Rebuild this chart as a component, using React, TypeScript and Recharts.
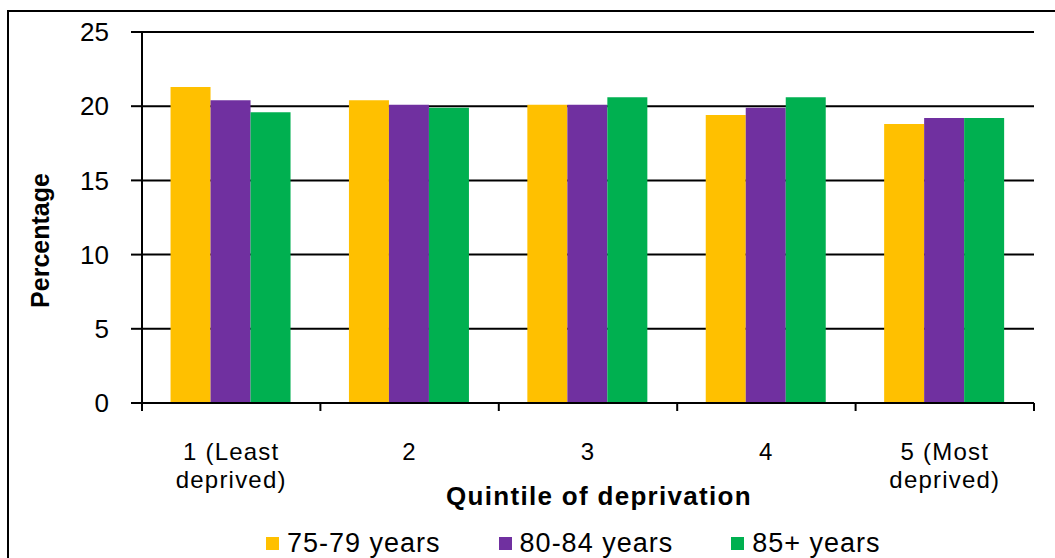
import { BarChart, Bar, XAxis, YAxis, CartesianGrid, Legend, Label } from 'recharts';

const categories = ['1 (Least\ndeprived)', '2', '3', '4', '5 (Most\ndeprived)'];
const age75to79 = [21.3, 20.4, 20.1, 19.4, 18.8];
const age80to84 = [20.4, 20.1, 20.1, 19.9, 19.2];
const age85plus = [19.6, 19.9, 20.6, 20.6, 19.2];
const yTicks = [0, 5, 10, 15, 20, 25];
const categoryEdges = [0, 1, 2, 3, 4, 5];

const seriesList = [
  { key: 'a', name: '75-79 years', color: '#FFC000' },
  { key: 'b', name: '80-84 years', color: '#7030A0' },
  { key: 'c', name: '85+ years', color: '#00B050' },
];

const data = categories.map((q, i) => ({
  q,
  idx: i + 0.5,
  a: age75to79[i],
  b: age80to84[i],
  c: age85plus[i],
}));

const FONT = '"Liberation Sans", Arial, sans-serif';

const CategoryTick = (props: any) => {
  const { x, y, payload } = props;
  const lines: string[] = String(payload.value).split('\n');
  return (
    <text x={x} y={y} textAnchor="middle" fill="#000" fontSize={24} letterSpacing={1.2} fontFamily={FONT}>
      {lines.map((l, i) => (
        <tspan key={i} x={x} dy={i === 0 ? 49 : 28}>
          {l}
        </tspan>
      ))}
    </text>
  );
};

const NoTick = () => <g />;

const LegendBox = () => (
  <div style={{ display: 'flex', paddingLeft: 266, fontFamily: FONT, fontSize: 27, letterSpacing: 1, color: '#000', height: 40, alignItems: 'flex-end' }}>
    {seriesList.map((s) => (
      <div key={s.key} style={{ display: 'flex', alignItems: 'center', marginRight: 58, lineHeight: '30px' }}>
        <span style={{ width: 13, height: 13, background: s.color, marginRight: 8, display: 'inline-block' }} />
        <span>{s.name}</span>
      </div>
    ))}
  </div>
);

const App = () => {
  return (
    <div style={{ position: 'absolute', left: 0, top: 0, width: 1055, height: 558, overflow: 'hidden', background: '#fff' }}>
      <div style={{ position: 'absolute', left: 7, top: 10, width: 1200, height: 700, border: '2px solid #000' }} />
      <div style={{ position: 'absolute', left: 0, top: 0 }}>
        <BarChart
          width={1055}
          height={558}
          data={data}
          margin={{ top: 32, right: 21, left: 8, bottom: 0 }}
          barCategoryGap="16%"
          barGap={0}
          style={{ fontFamily: FONT }}
        >
          <CartesianGrid xAxisId="b-cat" vertical={false} stroke="#000" strokeWidth={2} />
          <XAxis
            xAxisId="a-edges"
            dataKey="idx"
            type="number"
            domain={[0, 5]}
            allowDataOverflow
            ticks={categoryEdges}
            tick={<NoTick />}
            tickSize={8}
            height={8}
            axisLine={{ stroke: '#000', strokeWidth: 2 }}
            tickLine={{ stroke: '#000', strokeWidth: 2 }}
          />
          <XAxis
            xAxisId="b-cat"
            dataKey="q"
            height={107}
            interval={0}
            tickSize={0}
            tickMargin={0}
            axisLine={false}
            tickLine={false}
            tick={<CategoryTick />}
          >
            <Label
              content={(p: any) => {
                const vb = p.viewBox;
                return (
                  <text x={vb.x + vb.width / 2 + 11} y={vb.y + 94} textAnchor="middle" fontWeight="bold" fontSize={26} letterSpacing={1.3} fill="#000" fontFamily={FONT}>
                    Quintile of deprivation
                  </text>
                );
              }}
            />
          </XAxis>
          <YAxis
            domain={[0, 25]}
            ticks={yTicks}
            width={134}
            tickSize={11}
            tickMargin={22}
            tick={{ fill: '#000', fontSize: 26, fontFamily: FONT }}
            axisLine={{ stroke: '#000', strokeWidth: 2 }}
            tickLine={{ stroke: '#000', strokeWidth: 2 }}
          >
            <Label
              content={(p: any) => {
                const vb = p.viewBox;
                const cx = vb.x + 32;
                const cy = vb.y + vb.height / 2 + 23;
                return (
                  <text x={cx} y={cy} transform={`rotate(-90 ${cx} ${cy})`} textAnchor="middle" dominantBaseline="central" fontWeight="bold" fontSize={25} fill="#000" fontFamily={FONT}>
                    Percentage
                  </text>
                );
              }}
            />
          </YAxis>
          <YAxis
            yAxisId="right"
            orientation="right"
            width={0}
            tick={false}
            tickLine={false}
            axisLine={{ stroke: '#000', strokeWidth: 2 }}
          />
          <Legend verticalAlign="bottom" height={40} content={<LegendBox />} wrapperStyle={{ left: 0, width: 1055 }} />
          {seriesList.map((s) => (
            <Bar key={s.key} xAxisId="b-cat" dataKey={s.key} name={s.name} fill={s.color} isAnimationActive={false} />
          ))}
        </BarChart>
      </div>
    </div>
  );
};

export default App;
